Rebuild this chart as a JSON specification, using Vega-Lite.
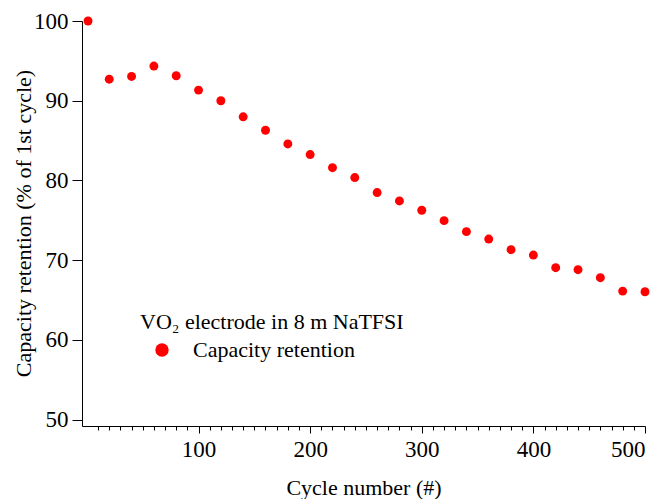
{
  "$schema": "https://vega.github.io/schema/vega-lite/v6.json",
  "width": 563,
  "height": 405,
  "autosize": "none",
  "padding": {"left": 82, "top": 21, "right": 18, "bottom": 73},
  "background": "white",
  "config": {
    "view": {"stroke": null},
    "font": "Liberation Serif, Times New Roman, serif",
    "axis": {
      "labelFont": "Liberation Serif, Times New Roman, serif",
      "titleFont": "Liberation Serif, Times New Roman, serif",
      "labelFontSize": 23,
      "titleFontSize": 22,
      "titleFontWeight": "normal",
      "labelColor": "black",
      "titleColor": "black",
      "domainColor": "black",
      "tickColor": "black",
      "tickWidth": 1,
      "grid": false
    },
    "legend": {
      "labelFont": "Liberation Serif, Times New Roman, serif",
      "titleFont": "Liberation Serif, Times New Roman, serif"
    }
  },
  "data": {
    "values": [
      {"cycle": 1, "retention": 100},
      {"cycle": 20, "retention": 92.7},
      {"cycle": 40, "retention": 93.05},
      {"cycle": 60, "retention": 94.35},
      {"cycle": 80, "retention": 93.13},
      {"cycle": 100, "retention": 91.33},
      {"cycle": 120, "retention": 90.0},
      {"cycle": 140, "retention": 87.98},
      {"cycle": 160, "retention": 86.3},
      {"cycle": 180, "retention": 84.58},
      {"cycle": 200, "retention": 83.25},
      {"cycle": 220, "retention": 81.6},
      {"cycle": 240, "retention": 80.36},
      {"cycle": 260, "retention": 78.48},
      {"cycle": 280, "retention": 77.43},
      {"cycle": 300, "retention": 76.26},
      {"cycle": 320, "retention": 74.96},
      {"cycle": 340, "retention": 73.58},
      {"cycle": 360, "retention": 72.65},
      {"cycle": 380, "retention": 71.32},
      {"cycle": 400, "retention": 70.64},
      {"cycle": 420, "retention": 69.06},
      {"cycle": 440, "retention": 68.81},
      {"cycle": 460, "retention": 67.8},
      {"cycle": 480, "retention": 66.12},
      {"cycle": 500, "retention": 66.04}
    ]
  },
  "mark": {"type": "point", "filled": true, "opacity": 1, "size": 80},
  "encoding": {
    "x": {
      "field": "cycle",
      "type": "quantitative",
      "scale": {"domain": [-4.4, 500], "nice": false, "zero": false},
      "axis": {
        "title": "Cycle number (#)",
        "values": [10,20,30,40,50,60,70,80,90,100,110,120,130,140,150,160,170,180,190,200,210,220,230,240,250,260,270,280,290,300,310,320,330,340,350,360,370,380,390,400,410,420,430,440,450,460,470,480,490,500],
        "labelExpr": "datum.value % 100 === 0 ? datum.label : ''",
        "labelOverlap": false,
        "ticks": true,
        "tickSize": {"condition": {"test": "datum.value % 100 === 0", "value": 7}, "value": 4},
        "labelPadding": 5,
        "titlePadding": 16
      }
    },
    "y": {
      "field": "retention",
      "type": "quantitative",
      "scale": {"domain": [49.2, 100], "nice": false, "zero": false},
      "axis": {
        "title": "Capacity retention (% of 1st cycle)",
        "values": [50, 60, 70, 80, 90, 100],
        "tickSize": 10,
        "labelPadding": 4,
        "titleX": -59,
        "titleY": 202,
        "titleBaseline": "middle",
        "titleAngle": 270
      }
    },
    "color": {
      "datum": "Capacity retention",
      "type": "nominal",
      "scale": {"range": ["#ff0000"]},
      "legend": {
        "title": "VO₂ electrode in 8 m NaTFSI",
        "orient": "none",
        "legendX": 58,
        "legendY": 291,
        "titleFontSize": 22,
        "titleFontWeight": "normal",
        "titleColor": "black",
        "titleLimit": 500,
        "titlePadding": 5,
        "labelFontSize": 22,
        "labelColor": "black",
        "labelLimit": 500,
        "labelOffset": 20,
        "symbolSize": 180,
        "symbolType": "circle",
        "symbolOffset": 11,
        "symbolStrokeWidth": 0
      }
    }
  }
}
